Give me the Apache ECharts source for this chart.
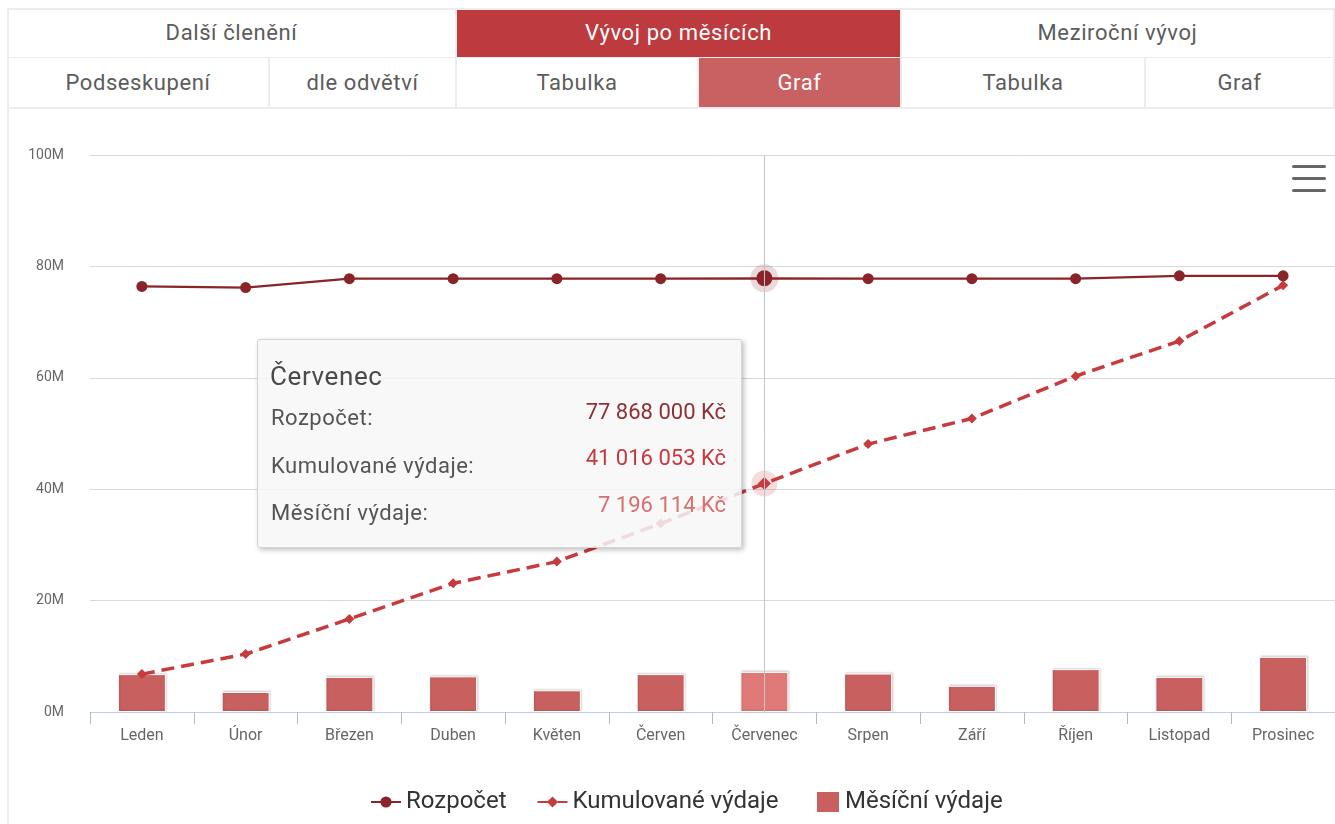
<!DOCTYPE html>
<html>
<head>
<meta charset="utf-8">
<script src="https://cdn.jsdelivr.net/npm/echarts@6/dist/echarts.min.js"></script>
<style>
  html, body { margin:0; padding:0; background:#fff; width:1335px; height:824px; overflow:hidden; font-family: Roboto, sans-serif; }
  #chart { position:absolute; left:0; top:0; width:1335px; height:824px; }
  .cell { position:absolute; box-sizing:border-box; display:flex; align-items:center; justify-content:center;
          font-family:Roboto, sans-serif; font-size:22px; letter-spacing:0.6px; color:#5c5c5c; background:#fff;
          border-right:2px solid #ececec; border-bottom:2px solid #ececec; z-index:5; }
  .dark { background:#bd3a3e; color:#fff; }
  .light { background:#c96162; color:#fff; }
  #leftline { position:absolute; left:7px; top:8px; width:2px; height:816px; background:#ececec; z-index:5; }
  #topline { position:absolute; left:7px; top:8px; width:1328px; height:2px; background:#ececec; z-index:6; }
</style>
</head>
<body>
<div id="chart"></div>
<div id="tabs"></div>
<div id="leftline"></div>
<div id="topline"></div>
<script>
// ---------- data ----------
const months = ['Leden','Únor','Březen','Duben','Květen','Červen','Červenec','Srpen','Září','Říjen','Listopad','Prosinec'];
const budget = [76400000, 76200000, 77800000, 77800000, 77800000, 77800000, 77868000, 77800000, 77800000, 77800000, 78300000, 78300000];
const cumulative = [6800000, 10400000, 16700000, 23100000, 27000000, 33820000, 41016053, 48100000, 52700000, 60300000, 66600000, 76600000];
const monthly = [6800000, 3600000, 6300000, 6400000, 3900000, 6800000, 7196114, 6900000, 4700000, 7700000, 6300000, 9900000];
const yTicks = [0, 20000000, 40000000, 60000000, 80000000, 100000000];
const seriesNames = ['Rozpočet', 'Kumulované výdaje', 'Měsíční výdaje'];
const tabsRow1 = [['Další členění', 8, 457, ''], ['Vývoj po měsících', 457, 902, 'dark'], ['Meziroční vývoj', 902, 1335, '']];
const tabsRow2 = [['Podseskupení', 8, 270, ''], ['dle odvětví', 270, 457, ''], ['Tabulka', 457, 699, ''], ['Graf', 699, 902, 'light'], ['Tabulka', 902, 1146, ''], ['Graf', 1146, 1335, '']];
const HOVER = 6;

// ---------- tabs ----------
const tabs = document.getElementById('tabs');
function addRow(row, top, h) {
  row.forEach(([t, x0, x1, cls]) => {
    const d = document.createElement('div');
    d.className = 'cell ' + cls;
    d.style.left = x0 + 'px'; d.style.top = top + 'px';
    d.style.width = (x1 - x0) + 'px'; d.style.height = h + 'px';
    d.textContent = t;
    tabs.appendChild(d);
  });
}
addRow(tabsRow1, 8, 51);
addRow(tabsRow2, 58, 51);

// ---------- chart ----------
const fmt = n => String(n).replace(/\B(?=(\d{3})+(?!\d))/g, ' ') + ' Kč';
const C_BUDGET = '#8b2429', C_CUM = '#c73a3d', C_BAR = '#c96060', C_BAR_H = '#e07a78';

const chart = echarts.init(document.getElementById('chart'));
const option = {
  animation: false,
  textStyle: { fontFamily: 'Roboto' },
  grid: { left: 90, right: 0, top: 155, bottom: 112 },
  xAxis: {
    type: 'category', data: months, boundaryGap: true,
    axisLine: { lineStyle: { color: '#c0d0e0', width: 1 } },
    axisTick: { show: true, alignWithLabel: false, interval: 0, length: 12, lineStyle: { color: '#a9bdd2', width: 1 } },
    axisLabel: { color: '#666', fontSize: 16, margin: 16 },
    axisPointer: { triggerEmphasis: false }
  },
  yAxis: {
    type: 'value', min: yTicks[0], max: yTicks[yTicks.length - 1], interval: yTicks[1] - yTicks[0],
    axisLabel: { formatter: v => (v / 1e6) + 'M', color: '#666', fontSize: 14, margin: 26 },
    splitLine: { lineStyle: { color: '#d8d8d8', width: 1 } },
    axisLine: { show: false }, axisTick: { show: false }
  },
  legend: [
    {
      left: 365, top: 785, itemWidth: 30, itemHeight: 14, itemGap: 30,
      data: seriesNames.slice(0, 2),
      textStyle: { fontSize: 24, color: '#333' }
    },
    {
      left: 810, top: 785, itemWidth: 24, itemHeight: 22,
      data: [{ name: seriesNames[2], icon: 'rect' }],
      textStyle: { fontSize: 24, color: '#333' }
    }
  ],
  tooltip: {
    trigger: 'axis', triggerOn: 'none', alwaysShowContent: true, transitionDuration: 0,
    position: [257, 339],
    backgroundColor: 'rgba(247,247,247,0.85)', borderColor: '#d4d4d4', borderWidth: 1, padding: 0,
    extraCssText: 'box-shadow: 2px 2px 5px rgba(0,0,0,0.25); border-radius:3px;',
    axisPointer: { type: 'line', lineStyle: { color: '#c4c4c4', width: 1, type: 'solid' }, triggerEmphasis: false },
    formatter: function (params) {
      const i = params[0].dataIndex;
      const row = (lab, val, col, ly, vy) =>
        '<div style="position:absolute;left:13px;top:' + ly + 'px;font-size:22px;letter-spacing:0.5px;color:#555;line-height:30px;">' + lab + '</div>' +
        '<div style="position:absolute;right:15px;top:' + vy + 'px;font-size:22px;color:' + col + ';line-height:30px;">' + val + '</div>';
      return '<div style="position:relative;width:483px;height:207px;font-family:Roboto;">' +
        '<div style="position:absolute;left:12px;top:21px;font-size:26px;letter-spacing:0.6px;color:#4a4a4a;line-height:30px;">' + months[i] + '</div>' +
        row(seriesNames[0] + ':', fmt(budget[i]), '#8e3035', 63, 57) +
        row(seriesNames[1] + ':', fmt(cumulative[i]), '#c8383e', 111, 103) +
        row(seriesNames[2] + ':', fmt(monthly[i]), '#d8706e', 158, 150) +
        '</div>';
    }
  },
  graphic: [
    { type: 'rect', left: 1292, top: 165, shape: { width: 34, height: 3, r: 1.5 }, style: { fill: '#666' } },
    { type: 'rect', left: 1292, top: 177, shape: { width: 34, height: 3, r: 1.5 }, style: { fill: '#666' } },
    { type: 'rect', left: 1292, top: 189, shape: { width: 34, height: 3, r: 1.5 }, style: { fill: '#666' } }
  ],
  series: [
    {
      name: seriesNames[2], type: 'bar', barWidth: 48, z: 2,
      emphasis: { disabled: true },
      itemStyle: { color: C_BAR, borderColor: '#fff', borderWidth: 1, shadowColor: 'rgba(0,0,0,0.15)', shadowBlur: 2, shadowOffsetX: 1, shadowOffsetY: -1 },
      data: monthly.map((v, i) => i === HOVER ? { value: v, itemStyle: { color: C_BAR_H } } : v)
    },
    {
      name: 'haloCum', type: 'scatter', z: 3, silent: true, symbolSize: 26,
      itemStyle: { color: 'rgba(199,58,61,0.22)' }, emphasis: { disabled: true },
      data: cumulative.map((v, i) => i === HOVER ? v : '-')
    },
    {
      name: 'haloBudget', type: 'scatter', z: 3, silent: true, symbolSize: 28,
      itemStyle: { color: 'rgba(139,36,41,0.22)' }, emphasis: { disabled: true },
      data: budget.map((v, i) => i === HOVER ? v : '-')
    },
    {
      name: seriesNames[1], type: 'line', z: 4, symbol: 'diamond', symbolSize: 10, showAllSymbol: true,
      emphasis: { disabled: true },
      lineStyle: { color: C_CUM, width: 3.5, type: [13, 7] },
      itemStyle: { color: C_CUM },
      data: cumulative.map((v, i) => i === HOVER ? { value: v, symbolSize: 13 } : v)
    },
    {
      name: seriesNames[0], type: 'line', z: 5, symbol: 'circle', symbolSize: 11, showAllSymbol: true,
      emphasis: { disabled: true },
      lineStyle: { color: C_BUDGET, width: 2.2 },
      itemStyle: { color: C_BUDGET },
      data: budget.map((v, i) => i === HOVER ? { value: v, symbolSize: 16 } : v)
    }
  ]
};
chart.setOption(option);
chart.dispatchAction({ type: 'showTip', seriesIndex: 4, dataIndex: HOVER });
</script>
</body>
</html>
